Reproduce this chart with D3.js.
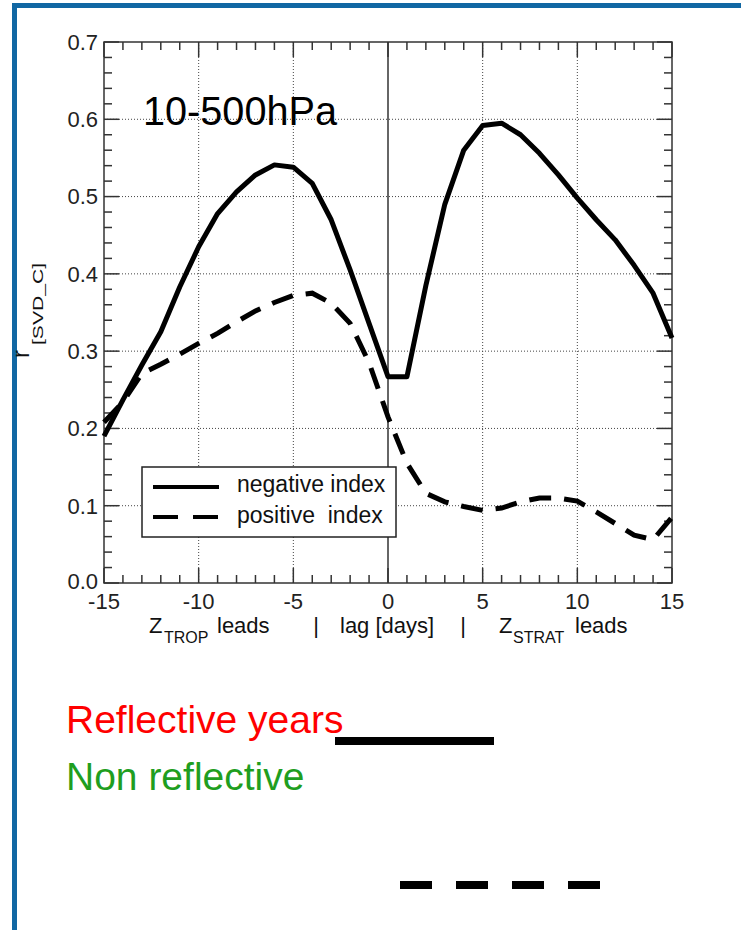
<!DOCTYPE html>
<html>
<head>
<meta charset="utf-8">
<script src="https://cdn.jsdelivr.net/npm/d3@7"></script>
<style>
  body { margin: 0; background: #fff; }
  svg { display: block; font-family: "Liberation Sans", Arial, sans-serif; }
</style>
</head>
<body>
<div id="chart"></div>
<script>
// lag in days
const days = [-15, -14, -13, -12, -11, -10, -9, -8, -7, -6, -5, -4, -3, -2, -1, 0,
              1, 2, 3, 4, 5, 6, 7, 8, 9, 10, 11, 12, 13, 14, 15];
// negative index (solid)
const negIndex = [0.19, 0.237, 0.282, 0.325, 0.383, 0.435, 0.478, 0.506, 0.528, 0.541, 0.538,
                  0.517, 0.47, 0.405, 0.336, 0.267, 0.267, 0.385, 0.49, 0.56, 0.592, 0.595,
                  0.58, 0.556, 0.528, 0.498, 0.47, 0.444, 0.411, 0.375, 0.317];
// positive index (dashed)
const posIndex = [0.208, 0.234, 0.271, 0.283, 0.296, 0.31, 0.323, 0.338, 0.352, 0.363, 0.372,
                  0.375, 0.362, 0.336, 0.285, 0.215, 0.155, 0.116, 0.105, 0.099, 0.094, 0.097,
                  0.105, 0.11, 0.11, 0.106, 0.092, 0.077, 0.062, 0.056, 0.085];
const xTicks = [-15, -10, -5, 0, 5, 10, 15];
const yTicks = [0.0, 0.1, 0.2, 0.3, 0.4, 0.5, 0.6, 0.7];
const xGrid = [-10, -5, 5, 10];
const yGrid = [0.1, 0.2, 0.3, 0.4, 0.5, 0.6];
const legendLabels = ["negative index", "positive  index"];

const W = 741, H = 930;
const svg = d3.select("#chart").append("svg")
    .attr("width", W).attr("height", H);

// blue frame of the slide
svg.append("rect").attr("x", 12).attr("y", 3).attr("width", W - 12).attr("height", 5).attr("fill", "#1167a3");
svg.append("rect").attr("x", 12).attr("y", 3).attr("width", 5).attr("height", H - 3).attr("fill", "#1167a3");

const pLeft = 104, pRight = 672, pTop = 42, pBottom = 583;
const x = d3.scaleLinear().domain([-15, 15]).range([pLeft, pRight]);
const y = d3.scaleLinear().domain([0, 0.7]).range([pBottom, pTop]);

const plot = svg.append("g");

// dotted grid
plot.selectAll(".gx").data(xGrid).enter().append("line")
    .attr("x1", d => x(d)).attr("x2", d => x(d)).attr("y1", pTop).attr("y2", pBottom)
    .attr("stroke", "#444").attr("stroke-width", 1).attr("stroke-dasharray", "1,2");
plot.selectAll(".gy").data(yGrid).enter().append("line")
    .attr("x1", pLeft).attr("x2", pRight).attr("y1", d => y(d)).attr("y2", d => y(d))
    .attr("stroke", "#444").attr("stroke-width", 1).attr("stroke-dasharray", "1,2");

// zero lag line
plot.append("line").attr("x1", x(0)).attr("x2", x(0)).attr("y1", pTop).attr("y2", pBottom)
    .attr("stroke", "#333").attr("stroke-width", 1.5);

// inward ticks on all four sides
const xMinor = d3.range(-15, 16, 1);
const yMinor = d3.range(0, 0.701, 0.02);
function tickLen(isMajor) { return isMajor ? 15 : 8; }

const isMajorX = d => d % 5 === 0;
const isMajorY = d => Math.abs(Math.round(d * 10) - d * 10) < 1e-6;

plot.selectAll(".tb").data(xMinor).enter().append("line")
    .attr("x1", d => x(d)).attr("x2", d => x(d))
    .attr("y1", pBottom).attr("y2", d => pBottom - tickLen(isMajorX(d)))
    .attr("stroke", "#333").attr("stroke-width", 1.5);
plot.selectAll(".tt").data(xMinor).enter().append("line")
    .attr("x1", d => x(d)).attr("x2", d => x(d))
    .attr("y1", pTop).attr("y2", d => pTop + tickLen(isMajorX(d)))
    .attr("stroke", "#333").attr("stroke-width", 1.5);
plot.selectAll(".tl").data(yMinor).enter().append("line")
    .attr("x1", pLeft).attr("x2", d => pLeft + tickLen(isMajorY(d)))
    .attr("y1", d => y(d)).attr("y2", d => y(d))
    .attr("stroke", "#333").attr("stroke-width", 1.5);
plot.selectAll(".tr").data(yMinor).enter().append("line")
    .attr("x1", pRight).attr("x2", d => pRight - tickLen(isMajorY(d)))
    .attr("y1", d => y(d)).attr("y2", d => y(d))
    .attr("stroke", "#333").attr("stroke-width", 1.5);

plot.append("rect").attr("x", pLeft).attr("y", pTop)
    .attr("width", pRight - pLeft).attr("height", pBottom - pTop)
    .attr("fill", "none").attr("stroke", "#333").attr("stroke-width", 1.5);

// tick labels
plot.selectAll(".xl").data(xTicks).enter().append("text")
    .attr("x", d => x(d)).attr("y", pBottom + 26)
    .attr("text-anchor", "middle").attr("font-size", 22).attr("fill", "#222")
    .text(d => d);
plot.selectAll(".yl").data(yTicks).enter().append("text")
    .attr("x", pLeft - 6).attr("y", d => y(d)).attr("dy", d => d === 0 ? "0.28em" : "0.36em")
    .attr("text-anchor", "end").attr("font-size", 22).attr("fill", "#222")
    .text(d => d.toFixed(1));

// data lines
const line = vals => d3.line()
    .x((d, i) => x(days[i]))
    .y(d => y(d))(vals);

plot.append("path").attr("d", line(negIndex))
    .attr("fill", "none").attr("stroke", "#000").attr("stroke-width", 5)
    .attr("stroke-linejoin", "round");
plot.append("path").attr("d", line(posIndex))
    .attr("fill", "none").attr("stroke", "#000").attr("stroke-width", 5)
    .attr("stroke-dasharray", "22,13");

// legend
const lg = plot.append("g");
lg.append("rect").attr("x", 142).attr("y", 467).attr("width", 254).attr("height", 70)
    .attr("fill", "#fff").attr("stroke", "#222").attr("stroke-width", 1.5);
lg.append("line").attr("x1", 153).attr("x2", 219).attr("y1", 487).attr("y2", 487)
    .attr("stroke", "#000").attr("stroke-width", 4);
lg.append("line").attr("x1", 153).attr("x2", 219).attr("y1", 517).attr("y2", 517)
    .attr("stroke", "#000").attr("stroke-width", 4).attr("stroke-dasharray", "25,15");
lg.selectAll("text").data(legendLabels).enter().append("text")
    .attr("x", 237).attr("y", (d, i) => 492 + i * 31)
    .attr("font-size", 23).attr("fill", "#111")
    .style("white-space", "pre")
    .text(d => d);

// title inside plot
plot.append("text").attr("x", 143).attr("y", 125)
    .attr("font-size", 40).attr("fill", "#000")
    .attr("textLength", 194).attr("lengthAdjust", "spacingAndGlyphs")
    .text("10-500hPa");

// y axis label
const yl = svg.append("g").attr("transform", "translate(29,358) rotate(-90)");
yl.append("text").attr("x", 0).attr("y", 0).attr("font-size", 24).attr("fill", "#111").text("r");
yl.append("text").attr("x", 13).attr("y", 14).attr("font-size", 15).attr("fill", "#111")
    .attr("textLength", 82).attr("lengthAdjust", "spacingAndGlyphs")
    .text("[SVD_C]");

// x axis label pieces
const xl = svg.append("g").attr("fill", "#111").attr("font-size", 22);
xl.append("text").attr("x", 149).attr("y", 633).text("Z");
xl.append("text").attr("x", 164).attr("y", 643).attr("font-size", 16).text("TROP");
xl.append("text").attr("x", 217).attr("y", 633).text("leads");
xl.append("text").attr("x", 316).attr("y", 633).attr("text-anchor", "middle").text("|");
xl.append("text").attr("x", 340).attr("y", 633).text("lag [days]");
xl.append("text").attr("x", 463).attr("y", 633).attr("text-anchor", "middle").text("|");
xl.append("text").attr("x", 499).attr("y", 633).text("Z");
xl.append("text").attr("x", 513).attr("y", 643).attr("font-size", 16).text("STRAT");
xl.append("text").attr("x", 575).attr("y", 633).text("leads");

// slide annotations
svg.append("text").attr("x", 66).attr("y", 733).attr("font-size", 39)
    .attr("fill", "#ff0000").text("Reflective years");
svg.append("text").attr("x", 66).attr("y", 790).attr("font-size", 39)
    .attr("fill", "#1f9e1f").text("Non reflective");
svg.append("line").attr("x1", 335).attr("x2", 494).attr("y1", 741).attr("y2", 741)
    .attr("stroke", "#000").attr("stroke-width", 8);
svg.append("line").attr("x1", 400).attr("x2", 602).attr("y1", 885).attr("y2", 885)
    .attr("stroke", "#000").attr("stroke-width", 8).attr("stroke-dasharray", "32,24");
</script>
</body>
</html>
